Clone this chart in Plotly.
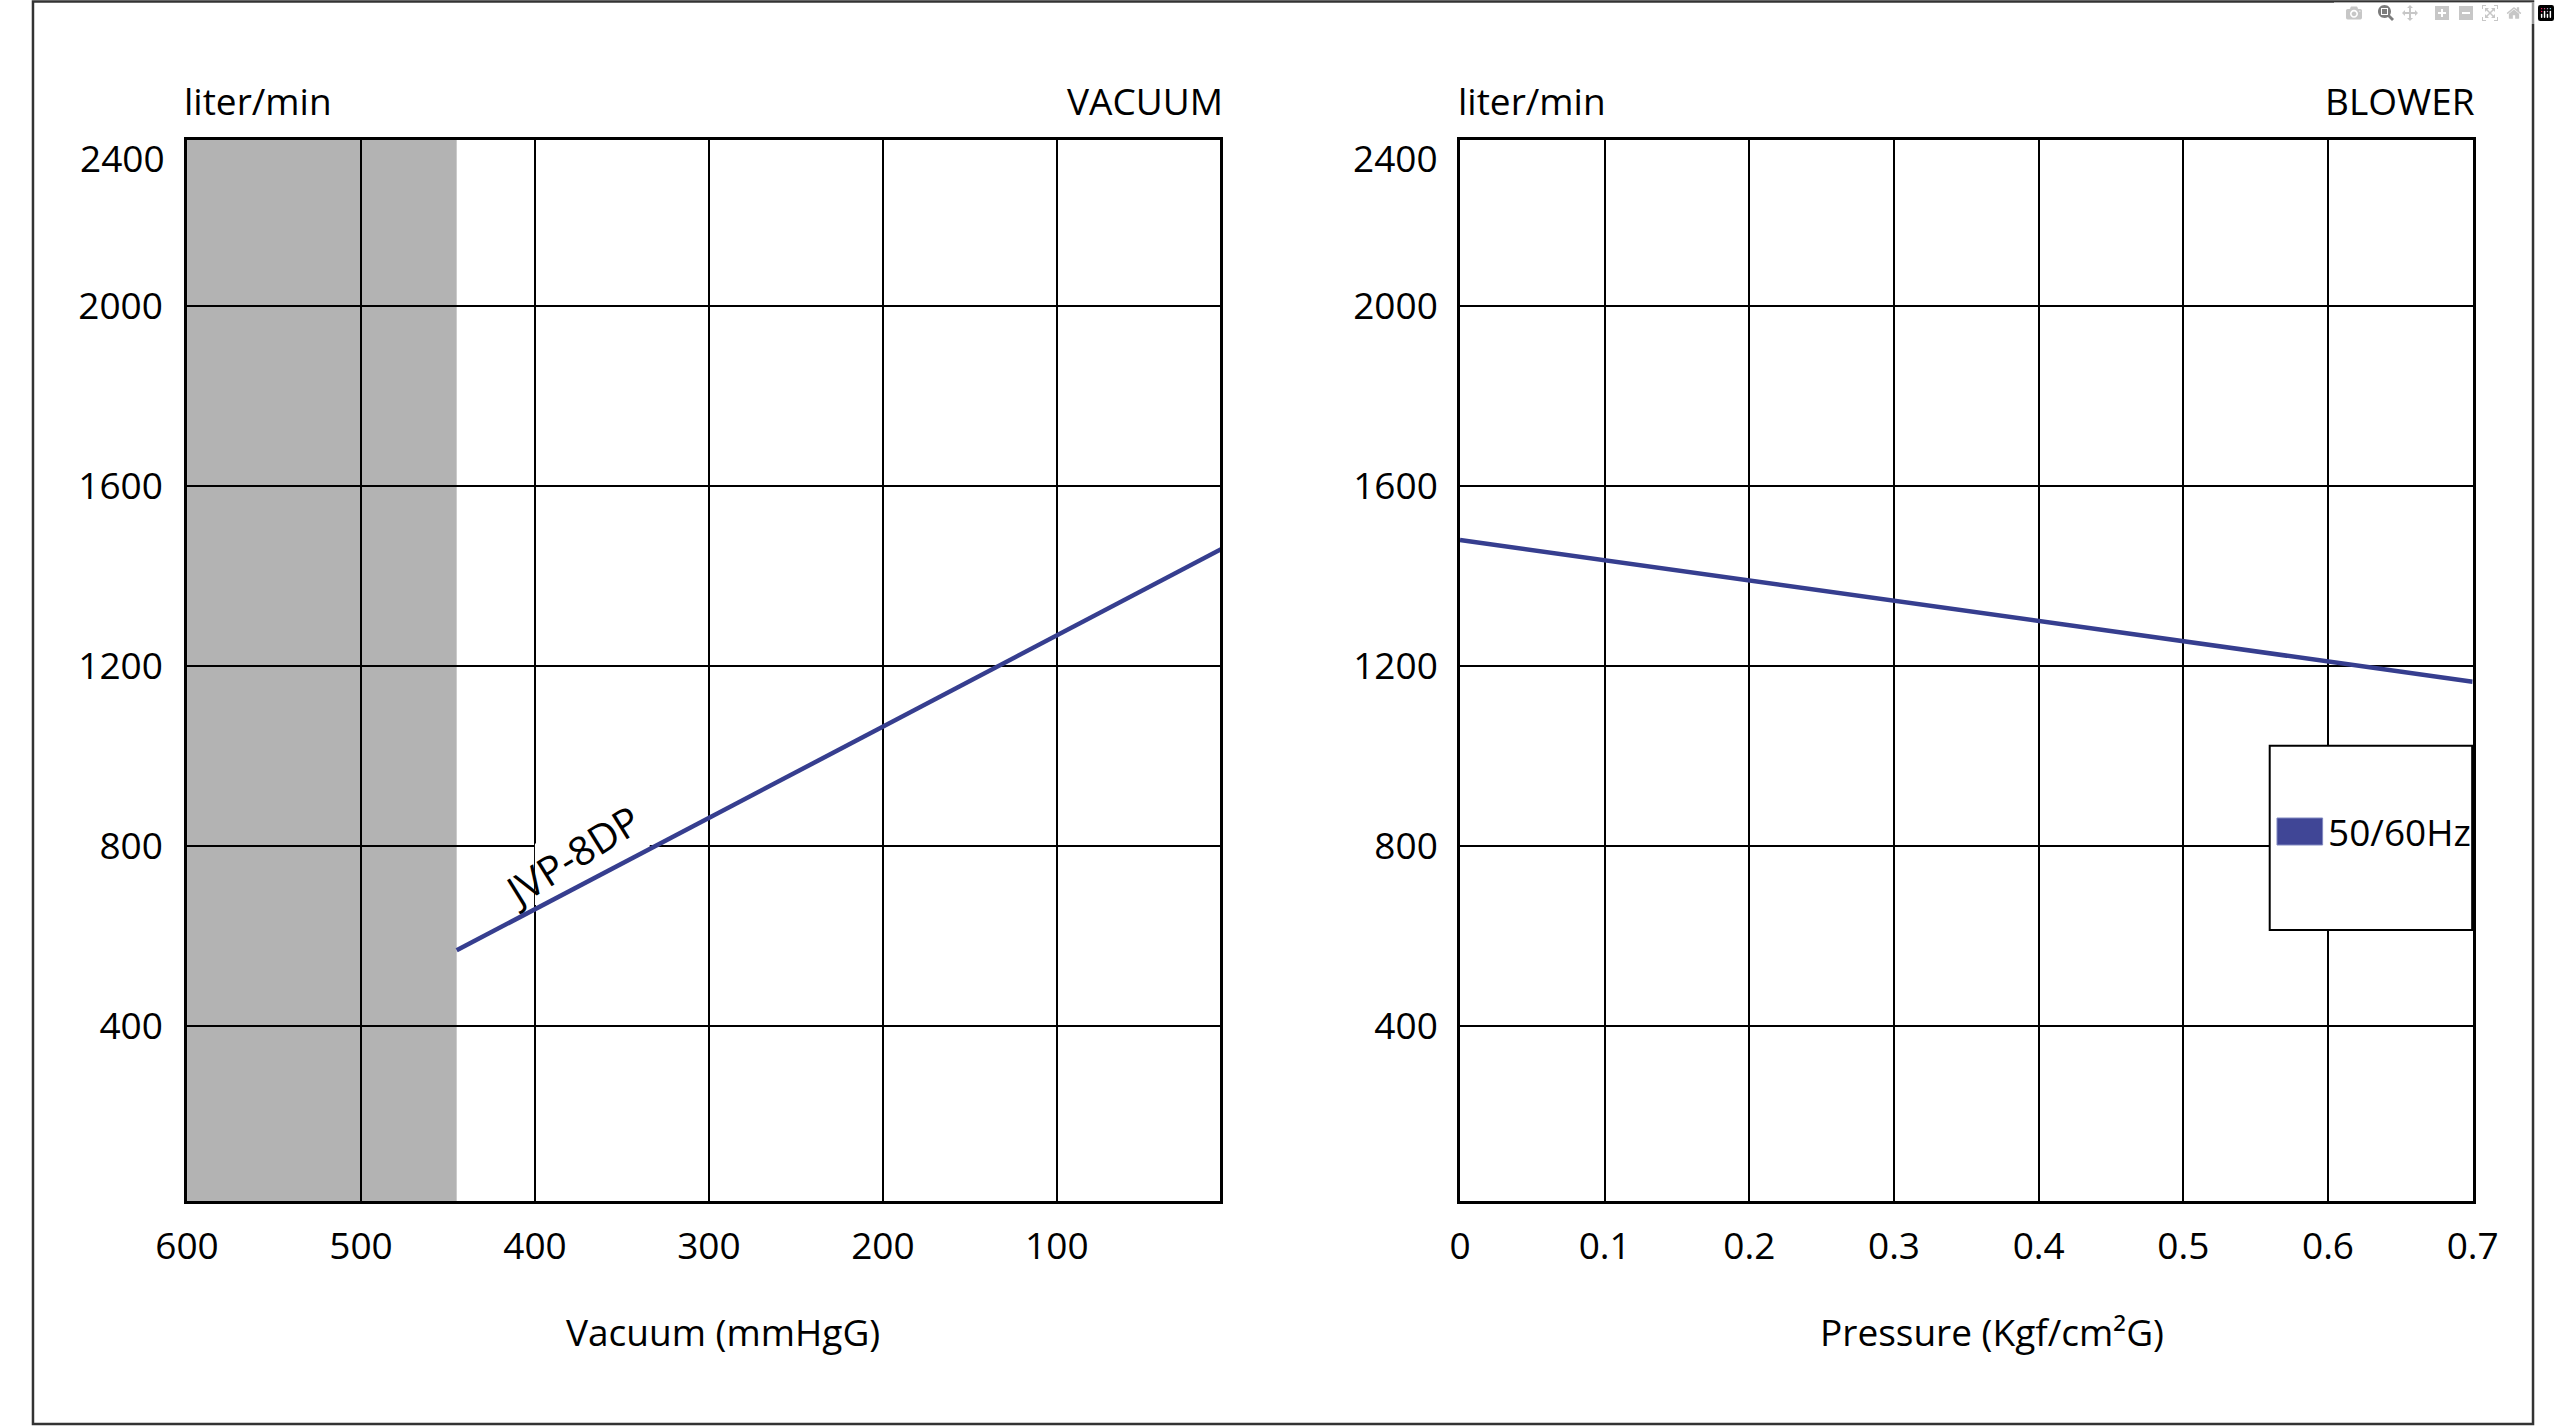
import plotly.graph_objects as go

# the body margin is removed after the plot is drawn (see write_html below)
OFF = 0
W, H = 2560, 1426
# the photographed page comes back squeezed sideways: out = SQ_A + SQ_B * window_x
SQ_A, SQ_B = 29.2, 0.979

# vacuum curve (left chart)
vacuum_mmhg = [445, 0]
vacuum_flow = [568, 1471]
vacuum_ticks = [600, 500, 400, 300, 200, 100]
shade_range = [600, 445]  # grey zone, outside the working range
model_name = "JVP-8DP"

# blower curve (right chart)
pressure_kgf = [0, 0.7]
blower_flow = [1480, 1165]
pressure_ticks = [0, 0.1, 0.2, 0.3, 0.4, 0.5, 0.6, 0.7]
pressure_labels = ["0", "0.1", "0.2", "0.3", "0.4", "0.5", "0.6", "0.7"]
legend_name = "50/60Hz"

flow_ticks = [400, 800, 1200, 1600, 2000]
flow_top_label = "2400"

FONT = "Open Sans"
FS = 37
BLUE = "#363e8f"

# plot areas, in pixels of the target picture
L_X0, L_X1 = 184.5, 1219.6
R_X0, R_X1 = 1459.6, 2474
Y_TOP, Y_BOT = 139.5, 1201.4
X_RANGE = [600, 6]
Y_RANGE = [10, 2370]


def px(x):
    win = (x - SQ_A) / SQ_B
    return (win - OFF) / W


def py(y):
    return 1 - (y - OFF) / H


def left_x(p):
    # picture pixel -> vacuum value on the left chart
    return X_RANGE[0] + (p - L_X0) / (L_X1 - L_X0) * (X_RANGE[1] - X_RANGE[0])


def left_y(p):
    return Y_RANGE[0] + (Y_BOT - p) / (Y_BOT - Y_TOP) * (Y_RANGE[1] - Y_RANGE[0])


fig = go.Figure()

fig.add_trace(go.Scatter(x=vacuum_mmhg, y=vacuum_flow, mode="lines",
                         line=dict(color=BLUE, width=4.5),
                         xaxis="x", yaxis="y", showlegend=False))
fig.add_trace(go.Scatter(x=pressure_kgf, y=blower_flow, mode="lines",
                         line=dict(color=BLUE, width=4.5),
                         xaxis="x2", yaxis="y2", showlegend=False))

ydom = [py(Y_BOT), py(Y_TOP)]
axis_common = dict(
    showgrid=True, gridcolor="black", gridwidth=2,
    showline=True, linecolor="black", linewidth=2.5, mirror=True,
    zeroline=False, ticks="outside", tickcolor="rgba(0,0,0,0)",
    tickfont=dict(family=FONT, size=FS, color="black"),
)

fig.update_layout(
    width=W, height=H, autosize=False,
    margin=dict(l=0, r=0, t=0, b=0),
    paper_bgcolor="white", plot_bgcolor="white",
    font=dict(family=FONT, size=FS, color="black"),
    xaxis=dict(axis_common, domain=[px(L_X0), px(L_X1)], range=X_RANGE,
               tickvals=vacuum_ticks, ticklen=10, anchor="y"),
    yaxis=dict(axis_common, domain=ydom, range=Y_RANGE,
               tickvals=flow_ticks, ticklen=14, anchor="x"),
    xaxis2=dict(axis_common, domain=[px(R_X0), px(R_X1)], range=[0, 0.7],
                tickvals=pressure_ticks, ticktext=pressure_labels,
                ticklen=10, anchor="y2"),
    yaxis2=dict(axis_common, domain=ydom, range=Y_RANGE,
                tickvals=flow_ticks, ticklen=12, anchor="x2"),
)

# grey zone behind the grid
fig.add_shape(type="rect", xref="x", yref="y domain",
              x0=shade_range[0], x1=shade_range[1], y0=0, y1=1,
              fillcolor="#b3b3b3", line_width=0, layer="below")

# white patch where the curve label sits on the grid
fig.add_shape(type="rect", xref="x", yref="y",
              x0=left_x(533), x1=left_x(648), y0=left_y(905), y1=left_y(843.5),
              fillcolor="white", line_width=0, layer="between")

# legend box drawn by hand to get the wide swatch
fig.add_shape(type="rect", xref="paper", yref="paper",
              x0=px(2270.7), x1=px(2473.5), y0=py(930), y1=py(745.7),
              fillcolor="white", line=dict(color="black", width=2), layer="above")
fig.add_shape(type="rect", xref="paper", yref="paper",
              x0=px(2278), x1=px(2323.7), y0=py(845), y1=py(818),
              fillcolor="#404696", line=dict(color="#8088c0", width=1), layer="above")

# frame round the whole picture, as far out as the page allows
fig.add_shape(type="rect", xref="paper", yref="paper",
              x0=1 / W, x1=2559 / W, y0=py(1424), y1=py(1.5),
              line=dict(color="#333333", width=2.5), layer="above")


def note(text, x, y, xa, **kw):
    fig.add_annotation(text=text, x=px(x), y=py(y), xref="paper", yref="paper",
                       xanchor=xa, yanchor="middle", showarrow=False,
                       font=dict(family=FONT, size=FS, color="black"), **kw)


note("liter/min", 179, 100, "left")
note("VACUUM", 1224, 100, "right")
note("liter/min", 1456, 100, "left")
note("BLOWER", 2478, 100, "right")
note(flow_top_label, 164, 158, "right")
note(flow_top_label, 1440, 158, "right")
note("Vacuum (mmHgG)", 721, 1331, "center")
note("Pressure (Kgf/cm²G)", 1993, 1331, "center")
note(legend_name, 2327, 831, "left")

fig.add_annotation(text=model_name, x=379, y=778, xref="x", yref="y",
                   showarrow=False, textangle=-32,
                   font=dict(family=FONT, size=40, color="black"))

fig.write_html("out.html", post_script="document.body.style.margin='0';")
